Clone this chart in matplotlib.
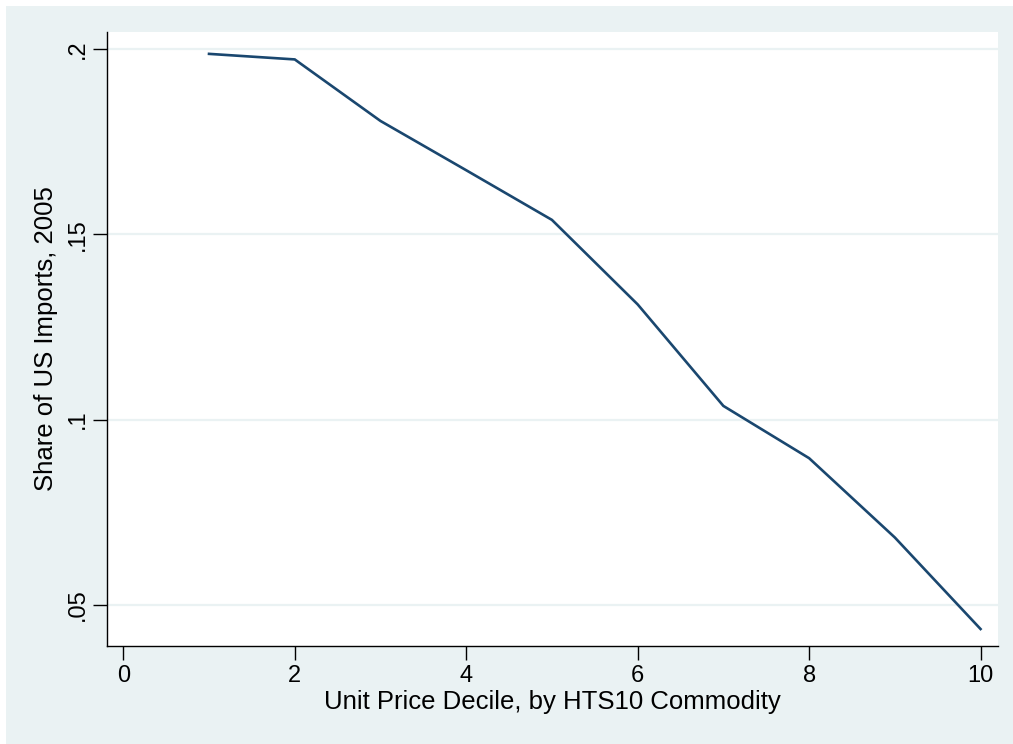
import matplotlib
matplotlib.use('Agg')
import matplotlib.pyplot as plt
import matplotlib.patches as patches

# Share of US imports by unit price decile.
decile = [1, 2, 3, 4, 5, 6, 7, 8, 9, 10]
share = [0.1987, 0.1972, 0.1806, 0.1673, 0.1539, 0.1311, 0.1037, 0.0896,
         0.0682, 0.0435]

x_ticks = [0, 2, 4, 6, 8, 10]
y_ticks = [0.05, 0.10, 0.15, 0.20]
y_tick_labels = ['.05', '.1', '.15', '.2']

bg = '#eaf2f3'
navy = '#1a476f'

plt.rcParams['font.family'] = ['Liberation Sans', 'DejaVu Sans']

fig = plt.figure(figsize=(10.13, 7.44), dpi=100)
fig.patch.set_facecolor('white')
# Stata-style outer panel, leaves a thin white strip on the top and left.
fig.add_artist(patches.Rectangle((6 / 1013., 0), 1., 1. - 6 / 744.,
                                 transform=fig.transFigure, facecolor=bg,
                                 edgecolor='none', zorder=-10))

ax = fig.add_axes([107 / 1013., 1 - 645.7 / 744., (997.7 - 107) / 1013.,
                   (645.7 - 32) / 744.])
ax.set_zorder(1)
ax.set_facecolor('white')

ax.plot(decile, share, color=navy, lw=1.9, solid_joinstyle='miter')

ax.set_xlim(-0.19, 10.2)
ax.set_ylim(0.0390, 0.2046)
ax.set_xticks(x_ticks)
ax.set_yticks(y_ticks)
ax.set_yticklabels(y_tick_labels, rotation=90, va='center')
ax.grid(axis='y', color=bg, lw=1.6)
ax.set_axisbelow(True)

for side in ['top', 'right']:
    ax.spines[side].set_visible(False)
for side in ['left', 'bottom']:
    ax.spines[side].set_linewidth(1.0)
    ax.spines[side].set_color('black')

ax.tick_params(axis='both', length=10, width=1.0, labelsize=17,
               colors='black', pad=4)
ax.tick_params(axis='y', pad=3)

ax.set_xlabel('Unit Price Decile, by HTS10 Commodity', fontsize=18.5,
              labelpad=2)
ax.set_ylabel('Share of US Imports, 2005', fontsize=18.5)
ax.yaxis.set_label_coords(-0.0547, 0.5)

fig.savefig('out.png', dpi=100, facecolor=fig.get_facecolor())
